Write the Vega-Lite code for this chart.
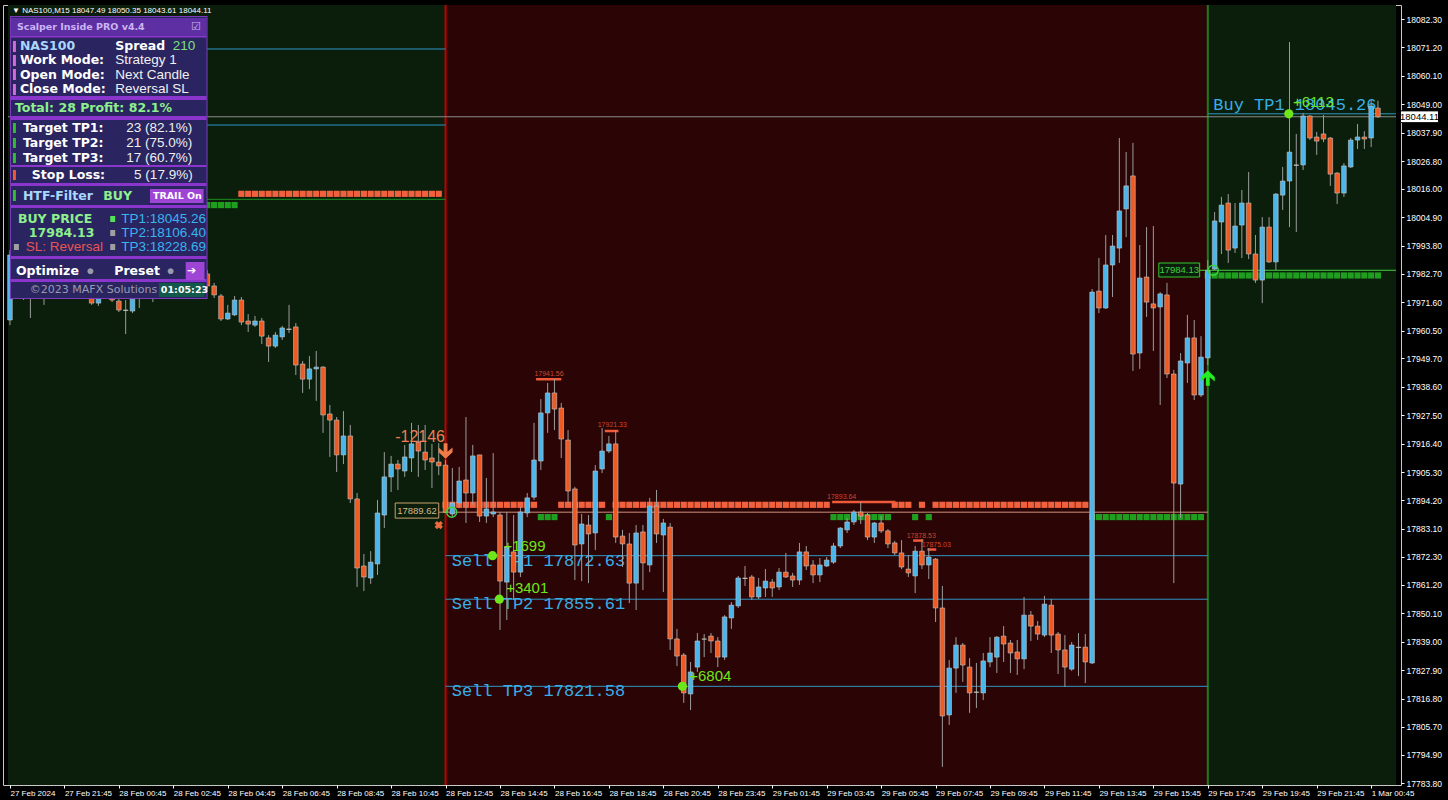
{
"$schema": "https://vega.github.io/schema/vega-lite/v6.json",
"width": 1398, "height": 780,
"autosize": {"type": "none"},
"padding": {"left": 3, "top": 5, "right": 47, "bottom": 15},
"background": "#000000",
"config": {"view": {"stroke": "#c8c8c8"}, "axis": {"grid": false}},
"datasets": {
"candles": [
{"i":0,"o":17964.7,"h":17992.0,"l":17962.7,"c":17990.1},
{"i":1,"o":17989.7,"h":17992.0,"l":17981.1,"c":17984.2},
{"i":2,"o":17984.2,"h":17987.4,"l":17972.5,"c":17978.4},
{"i":3,"o":17976.4,"h":17986.2,"l":17965.5,"c":17983.5},
{"i":4,"o":17983.5,"h":17987.4,"l":17976.4,"c":17980.3},
{"i":5,"o":17978.4,"h":17988.9,"l":17970.6,"c":17986.2},
{"i":6,"o":17985.8,"h":17994.0,"l":17984.2,"c":17991.3},
{"i":7,"o":17991.3,"h":17996.0,"l":17985.0,"c":17987.4},
{"i":8,"o":17987.4,"h":17996.7,"l":17985.8,"c":17994.0},
{"i":9,"o":17994.0,"h":17997.9,"l":17986.2,"c":17988.9},
{"i":10,"o":17988.9,"h":17992.0,"l":17980.3,"c":17982.3},
{"i":11,"o":17982.3,"h":17986.2,"l":17974.5,"c":17976.4},
{"i":12,"o":17976.4,"h":17979.5,"l":17970.6,"c":17971.3},
{"i":13,"o":17971.3,"h":17977.2,"l":17970.2,"c":17973.7},
{"i":14,"o":17973.7,"h":17980.3,"l":17972.9,"c":17978.0},
{"i":15,"o":17978.0,"h":17979.5,"l":17971.7,"c":17972.5},
{"i":16,"o":17972.1,"h":17974.5,"l":17967.8,"c":17968.6},
{"i":17,"o":17968.6,"h":17972.5,"l":17959.2,"c":17968.4},
{"i":18,"o":17968.2,"h":17975.6,"l":17967.4,"c":17973.7},
{"i":19,"o":17973.7,"h":17979.2,"l":17969.4,"c":17977.6},
{"i":20,"o":17977.6,"h":17981.1,"l":17974.1,"c":17975.6},
{"i":21,"o":17975.6,"h":17982.3,"l":17971.7,"c":17980.3},
{"i":22,"o":17980.3,"h":17986.2,"l":17978.8,"c":17984.2},
{"i":23,"o":17984.2,"h":17987.4,"l":17979.2,"c":17981.1},
{"i":24,"o":17981.1,"h":17987.4,"l":17978.4,"c":17985.0},
{"i":25,"o":17985.0,"h":17988.1,"l":17977.2,"c":17980.3},
{"i":26,"o":17979.5,"h":17985.0,"l":17973.3,"c":17983.5},
{"i":27,"o":17983.5,"h":17985.8,"l":17978.4,"c":17981.1},
{"i":28,"o":17980.3,"h":17985.0,"l":17977.2,"c":17982.7},
{"i":29,"o":17982.7,"h":17984.2,"l":17976.4,"c":17978.0},
{"i":30,"o":17978.0,"h":17979.2,"l":17973.3,"c":17974.5},
{"i":31,"o":17974.1,"h":17974.9,"l":17964.3,"c":17965.1},
{"i":32,"o":17965.1,"h":17970.6,"l":17964.7,"c":17967.4},
{"i":33,"o":17966.7,"h":17974.1,"l":17966.3,"c":17972.5},
{"i":34,"o":17972.5,"h":17973.7,"l":17962.7,"c":17963.9},
{"i":35,"o":17964.3,"h":17967.0,"l":17960.0,"c":17963.1},
{"i":36,"o":17962.7,"h":17966.3,"l":17962.0,"c":17964.3},
{"i":37,"o":17964.3,"h":17965.5,"l":17955.3,"c":17958.4},
{"i":38,"o":17957.7,"h":17958.8,"l":17948.3,"c":17954.5},
{"i":39,"o":17954.5,"h":17960.0,"l":17953.8,"c":17958.8},
{"i":40,"o":17958.1,"h":17962.4,"l":17956.9,"c":17961.6},
{"i":41,"o":17961.2,"h":17970.6,"l":17959.6,"c":17961.0},
{"i":42,"o":17962.0,"h":17963.5,"l":17943.2,"c":17947.1},
{"i":43,"o":17947.5,"h":17948.7,"l":17936.2,"c":17941.6},
{"i":44,"o":17941.6,"h":17950.6,"l":17937.7,"c":17945.6},
{"i":45,"o":17945.6,"h":17952.6,"l":17933.1,"c":17946.3},
{"i":46,"o":17946.3,"h":17946.7,"l":17920.6,"c":17927.6},
{"i":47,"o":17928.0,"h":17931.5,"l":17911.2,"c":17925.6},
{"i":48,"o":17925.6,"h":17926.8,"l":17905.3,"c":17912.0},
{"i":49,"o":17912.0,"h":17929.1,"l":17908.4,"c":17919.4},
{"i":50,"o":17919.4,"h":17923.7,"l":17893.2,"c":17894.8},
{"i":51,"o":17894.8,"h":17897.1,"l":17860.4,"c":17867.8},
{"i":52,"o":17868.6,"h":17873.3,"l":17858.8,"c":17864.3},
{"i":53,"o":17863.9,"h":17874.4,"l":17861.6,"c":17870.1},
{"i":54,"o":17869.4,"h":17894.4,"l":17865.1,"c":17889.3},
{"i":55,"o":17888.5,"h":17913.1,"l":17883.4,"c":17903.4},
{"i":56,"o":17903.4,"h":17911.6,"l":17897.5,"c":17908.4},
{"i":57,"o":17908.4,"h":17910.0,"l":17898.3,"c":17906.5},
{"i":58,"o":17905.7,"h":17915.9,"l":17903.4,"c":17911.2},
{"i":59,"o":17910.8,"h":17924.5,"l":17905.3,"c":17916.3},
{"i":60,"o":17917.0,"h":17923.7,"l":17903.4,"c":17913.5},
{"i":61,"o":17913.1,"h":17923.7,"l":17906.1,"c":17910.0},
{"i":62,"o":17910.8,"h":17916.3,"l":17899.1,"c":17909.2},
{"i":63,"o":17909.2,"h":17916.6,"l":17904.1,"c":17907.7},
{"i":64,"o":17908.0,"h":17910.0,"l":17889.3,"c":17889.6},
{"i":65,"o":17888.9,"h":17906.9,"l":17887.7,"c":17893.2},
{"i":66,"o":17893.2,"h":17907.3,"l":17891.2,"c":17901.8},
{"i":67,"o":17902.2,"h":17926.8,"l":17885.4,"c":17897.1},
{"i":68,"o":17897.1,"h":17915.9,"l":17892.4,"c":17911.6},
{"i":69,"o":17912.0,"h":17912.0,"l":17885.8,"c":17888.1},
{"i":70,"o":17888.1,"h":17903.0,"l":17885.4,"c":17890.9},
{"i":71,"o":17888.9,"h":17912.7,"l":17887.7,"c":17889.7},
{"i":72,"o":17888.5,"h":17889.7,"l":17843.6,"c":17862.7},
{"i":73,"o":17862.3,"h":17889.7,"l":17847.5,"c":17876.0},
{"i":74,"o":17874.1,"h":17888.5,"l":17855.3,"c":17866.2},
{"i":75,"o":17866.2,"h":17891.6,"l":17864.3,"c":17889.7},
{"i":76,"o":17889.3,"h":17897.1,"l":17887.7,"c":17895.2},
{"i":77,"o":17895.5,"h":17924.5,"l":17894.4,"c":17910.0},
{"i":78,"o":17909.6,"h":17933.8,"l":17906.1,"c":17928.4},
{"i":79,"o":17928.4,"h":17940.1,"l":17920.6,"c":17936.2},
{"i":80,"o":17936.2,"h":17941.6,"l":17921.7,"c":17929.9},
{"i":81,"o":17930.3,"h":17932.3,"l":17910.8,"c":17918.2},
{"i":82,"o":17917.8,"h":17921.7,"l":17893.2,"c":17897.9},
{"i":83,"o":17898.7,"h":17899.5,"l":17863.1,"c":17876.8},
{"i":84,"o":17877.2,"h":17888.9,"l":17862.7,"c":17885.0},
{"i":85,"o":17884.6,"h":17888.5,"l":17861.9,"c":17881.1},
{"i":86,"o":17881.5,"h":17908.0,"l":17874.8,"c":17905.7},
{"i":87,"o":17906.5,"h":17922.5,"l":17904.9,"c":17913.5},
{"i":88,"o":17913.5,"h":17919.4,"l":17912.7,"c":17916.3},
{"i":89,"o":17916.3,"h":17921.7,"l":17877.6,"c":17879.9},
{"i":90,"o":17880.3,"h":17882.7,"l":17868.2,"c":17877.2},
{"i":91,"o":17877.2,"h":17881.5,"l":17854.1,"c":17861.9},
{"i":92,"o":17861.9,"h":17884.6,"l":17851.4,"c":17881.5},
{"i":93,"o":17881.9,"h":17884.6,"l":17859.2,"c":17869.8},
{"i":94,"o":17869.0,"h":17895.2,"l":17866.2,"c":17892.0},
{"i":95,"o":17892.0,"h":17898.3,"l":17877.6,"c":17881.1},
{"i":96,"o":17880.7,"h":17887.0,"l":17858.4,"c":17885.4},
{"i":97,"o":17883.8,"h":17885.4,"l":17835.8,"c":17840.1},
{"i":98,"o":17840.1,"h":17844.0,"l":17829.5,"c":17833.4},
{"i":99,"o":17833.8,"h":17834.6,"l":17815.1,"c":17819.0},
{"i":100,"o":17818.6,"h":17831.1,"l":17812.3,"c":17827.2},
{"i":101,"o":17829.1,"h":17842.4,"l":17827.2,"c":17839.3},
{"i":102,"o":17840.1,"h":17842.0,"l":17833.0,"c":17840.0},
{"i":103,"o":17841.2,"h":17842.4,"l":17834.6,"c":17839.3},
{"i":104,"o":17839.3,"h":17840.8,"l":17829.1,"c":17833.0},
{"i":105,"o":17833.0,"h":17849.4,"l":17831.9,"c":17848.7},
{"i":106,"o":17848.3,"h":17854.5,"l":17844.0,"c":17853.3},
{"i":107,"o":17853.0,"h":17864.7,"l":17852.2,"c":17863.9},
{"i":108,"o":17863.9,"h":17868.6,"l":17860.8,"c":17863.7},
{"i":109,"o":17864.3,"h":17865.1,"l":17855.3,"c":17856.5},
{"i":110,"o":17856.5,"h":17863.9,"l":17855.7,"c":17860.4},
{"i":111,"o":17860.0,"h":17867.4,"l":17856.5,"c":17862.7},
{"i":112,"o":17862.3,"h":17863.5,"l":17856.5,"c":17860.0},
{"i":113,"o":17860.4,"h":17867.8,"l":17859.2,"c":17866.2},
{"i":114,"o":17866.2,"h":17873.7,"l":17863.9,"c":17864.3},
{"i":115,"o":17864.7,"h":17865.9,"l":17860.4,"c":17863.1},
{"i":116,"o":17863.1,"h":17877.6,"l":17861.2,"c":17874.1},
{"i":117,"o":17874.1,"h":17876.4,"l":17867.0,"c":17868.6},
{"i":118,"o":17869.0,"h":17870.9,"l":17861.9,"c":17865.1},
{"i":119,"o":17865.1,"h":17871.7,"l":17862.3,"c":17869.0},
{"i":120,"o":17868.6,"h":17872.1,"l":17868.2,"c":17870.9},
{"i":121,"o":17870.1,"h":17877.6,"l":17869.4,"c":17876.4},
{"i":122,"o":17876.4,"h":17883.8,"l":17875.6,"c":17883.4},
{"i":123,"o":17882.7,"h":17887.3,"l":17881.5,"c":17885.8},
{"i":124,"o":17885.8,"h":17890.5,"l":17884.6,"c":17889.7},
{"i":125,"o":17889.7,"h":17893.6,"l":17885.0,"c":17888.1},
{"i":126,"o":17888.5,"h":17889.3,"l":17878.7,"c":17879.9},
{"i":127,"o":17879.9,"h":17885.8,"l":17877.6,"c":17885.4},
{"i":128,"o":17885.4,"h":17888.1,"l":17881.5,"c":17882.3},
{"i":129,"o":17882.3,"h":17883.0,"l":17875.6,"c":17877.2},
{"i":130,"o":17877.6,"h":17878.4,"l":17872.9,"c":17873.7},
{"i":131,"o":17873.7,"h":17878.7,"l":17867.4,"c":17868.2},
{"i":132,"o":17867.4,"h":17872.9,"l":17864.3,"c":17865.9},
{"i":133,"o":17864.7,"h":17876.4,"l":17858.0,"c":17874.4},
{"i":134,"o":17874.4,"h":17879.1,"l":17867.4,"c":17869.0},
{"i":135,"o":17869.0,"h":17875.6,"l":17863.5,"c":17872.1},
{"i":136,"o":17871.3,"h":17871.7,"l":17846.7,"c":17852.2},
{"i":137,"o":17852.2,"h":17860.8,"l":17790.1,"c":17810.0},
{"i":138,"o":17810.4,"h":17831.9,"l":17806.5,"c":17828.7},
{"i":139,"o":17828.7,"h":17840.8,"l":17819.0,"c":17837.7},
{"i":140,"o":17837.7,"h":17838.5,"l":17823.3,"c":17829.9},
{"i":141,"o":17829.1,"h":17832.6,"l":17811.2,"c":17819.0},
{"i":142,"o":17819.4,"h":17830.7,"l":17813.1,"c":17819.2},
{"i":143,"o":17819.0,"h":17834.6,"l":17816.2,"c":17831.5},
{"i":144,"o":17831.1,"h":17840.8,"l":17829.1,"c":17834.6},
{"i":145,"o":17833.0,"h":17841.2,"l":17826.8,"c":17840.8},
{"i":146,"o":17841.2,"h":17845.1,"l":17831.1,"c":17838.1},
{"i":147,"o":17838.5,"h":17839.7,"l":17826.8,"c":17834.6},
{"i":148,"o":17835.0,"h":17839.7,"l":17826.0,"c":17832.3},
{"i":149,"o":17832.3,"h":17856.5,"l":17828.3,"c":17849.4},
{"i":150,"o":17849.4,"h":17851.0,"l":17839.3,"c":17845.1},
{"i":151,"o":17845.1,"h":17847.1,"l":17839.7,"c":17842.0},
{"i":152,"o":17841.6,"h":17856.9,"l":17840.8,"c":17853.7},
{"i":153,"o":17853.3,"h":17855.7,"l":17834.6,"c":17841.6},
{"i":154,"o":17842.0,"h":17842.8,"l":17826.4,"c":17835.8},
{"i":155,"o":17835.8,"h":17841.6,"l":17821.3,"c":17829.1},
{"i":156,"o":17828.3,"h":17838.9,"l":17827.6,"c":17837.7},
{"i":157,"o":17836.9,"h":17842.4,"l":17825.6,"c":17836.7},
{"i":158,"o":17836.9,"h":17842.0,"l":17822.9,"c":17831.1},
{"i":159,"o":17830.7,"h":17976.8,"l":17830.3,"c":17975.6},
{"i":160,"o":17976.0,"h":17988.9,"l":17967.4,"c":17969.4},
{"i":161,"o":17969.4,"h":17997.9,"l":17969.0,"c":17986.2},
{"i":162,"o":17986.2,"h":17997.9,"l":17973.7,"c":17993.6},
{"i":163,"o":17992.8,"h":18035.8,"l":17987.0,"c":18007.3},
{"i":164,"o":18008.1,"h":18030.3,"l":17997.1,"c":18017.1},
{"i":165,"o":18021.0,"h":18033.9,"l":17944.8,"c":17951.4},
{"i":166,"o":17951.8,"h":17994.0,"l":17945.6,"c":17981.1},
{"i":167,"o":17981.5,"h":18001.0,"l":17965.9,"c":17971.7},
{"i":168,"o":17971.0,"h":18001.4,"l":17952.6,"c":17969.4},
{"i":169,"o":17969.8,"h":17975.6,"l":17931.5,"c":17974.9},
{"i":170,"o":17974.5,"h":17979.2,"l":17942.0,"c":17943.6},
{"i":171,"o":17943.6,"h":17945.2,"l":17861.9,"c":17901.0},
{"i":172,"o":17900.6,"h":17951.8,"l":17887.3,"c":17948.7},
{"i":173,"o":17947.9,"h":17966.7,"l":17940.1,"c":17957.7},
{"i":174,"o":17957.7,"h":17964.7,"l":17933.4,"c":17935.4},
{"i":175,"o":17935.4,"h":17958.4,"l":17934.6,"c":17950.2},
{"i":176,"o":17949.9,"h":17988.1,"l":17947.1,"c":17984.1},
{"i":177,"o":17984.6,"h":18006.9,"l":17984.2,"c":18003.4},
{"i":178,"o":18003.0,"h":18012.8,"l":17990.5,"c":18009.6},
{"i":179,"o":18010.4,"h":18013.9,"l":17987.0,"c":17992.0},
{"i":180,"o":17992.8,"h":18010.4,"l":17990.9,"c":18001.4},
{"i":181,"o":18001.8,"h":18015.5,"l":17988.9,"c":18010.4},
{"i":182,"o":18010.4,"h":18022.5,"l":17988.5,"c":17990.5},
{"i":183,"o":17990.5,"h":17997.9,"l":17979.2,"c":17980.3},
{"i":184,"o":17980.3,"h":18004.9,"l":17971.3,"c":18001.0},
{"i":185,"o":18001.0,"h":18004.9,"l":17987.0,"c":17987.4},
{"i":186,"o":17987.4,"h":18014.3,"l":17984.2,"c":18013.9},
{"i":187,"o":18013.5,"h":18024.5,"l":18007.7,"c":18019.0},
{"i":188,"o":18019.0,"h":18073.3,"l":18001.0,"c":18030.3},
{"i":189,"o":18025.3,"h":18037.4,"l":17999.1,"c":18025.1},
{"i":190,"o":18025.3,"h":18045.6,"l":18023.3,"c":18044.4},
{"i":191,"o":18044.4,"h":18044.8,"l":18035.0,"c":18035.8},
{"i":192,"o":18036.2,"h":18038.2,"l":18029.2,"c":18034.6},
{"i":193,"o":18037.4,"h":18044.8,"l":18034.2,"c":18035.4},
{"i":194,"o":18035.8,"h":18036.2,"l":18017.1,"c":18021.7},
{"i":195,"o":18022.1,"h":18022.5,"l":18010.0,"c":18014.3},
{"i":196,"o":18014.3,"h":18026.0,"l":18012.8,"c":18024.9},
{"i":197,"o":18024.5,"h":18035.8,"l":18024.1,"c":18035.0},
{"i":198,"o":18035.0,"h":18041.3,"l":18031.5,"c":18036.2},
{"i":199,"o":18036.2,"h":18038.5,"l":18031.5,"c":18035.4},
{"i":200,"o":18035.8,"h":18050.6,"l":18032.3,"c":18048.3},
{"i":201,"o":18047.49,"h":18050.35,"l":18043.61,"c":18044.11}
],
"zones": [{"a":-0.29,"b":64,"z":"pre"},{"a":64,"b":176,"z":"sell"},{"a":176,"b":203.65,"z":"buy"}],
"vlines": [{"i":64,"z":"sell"},{"i":176,"z":"buy"}],
"hlines": [
{"a":20,"b":64,"p":18070.58,"s":"tp"},
{"a":20,"b":64,"p":18040.88,"s":"tp"},
{"a":20,"b":64,"p":18011.85,"s":"prev"},
{"a":-0.29,"b":203.65,"p":18044.11,"s":"bid"},
{"a":63,"b":176,"p":17889.62,"s":"sellE"},
{"a":64,"b":176,"p":17872.63,"s":"tp"},
{"a":64,"b":176,"p":17855.61,"s":"tp"},
{"a":64,"b":176,"p":17821.58,"s":"tp"},
{"a":176,"b":203.65,"p":18045.26,"s":"tp"},
{"a":174.8,"b":203.65,"p":17984.13,"s":"buyE"}
],
"marklines": [
{"a":77.3,"b":81.0,"p":17941.56},
{"a":87.4,"b":89.4,"p":17921.33},
{"a":120.8,"b":130.1,"p":17893.64},
{"a":132.7,"b":134.2,"p":17878.53},
{"a":134.8,"b":136.1,"p":17875.03}
],
"sig": [
{"i":29,"p":18009.6,"s":"g"},{"i":30,"p":18009.6,"s":"g"},{"i":31,"p":18009.6,"s":"g"},{"i":32,"p":18009.6,"s":"g"},{"i":33,"p":18009.6,"s":"g"},
{"i":34,"p":18014.0,"s":"o"},{"i":35,"p":18014.0,"s":"o"},{"i":36,"p":18014.0,"s":"o"},{"i":37,"p":18014.0,"s":"o"},{"i":38,"p":18014.0,"s":"o"},{"i":39,"p":18014.0,"s":"o"},{"i":40,"p":18014.0,"s":"o"},{"i":41,"p":18014.0,"s":"o"},{"i":42,"p":18014.0,"s":"o"},{"i":43,"p":18014.0,"s":"o"},{"i":44,"p":18014.0,"s":"o"},{"i":45,"p":18014.0,"s":"o"},{"i":46,"p":18014.0,"s":"o"},{"i":47,"p":18014.0,"s":"o"},{"i":48,"p":18014.0,"s":"o"},{"i":49,"p":18014.0,"s":"o"},{"i":50,"p":18014.0,"s":"o"},{"i":51,"p":18014.0,"s":"o"},{"i":52,"p":18014.0,"s":"o"},{"i":53,"p":18014.0,"s":"o"},{"i":54,"p":18014.0,"s":"o"},{"i":55,"p":18014.0,"s":"o"},{"i":56,"p":18014.0,"s":"o"},{"i":57,"p":18014.0,"s":"o"},{"i":58,"p":18014.0,"s":"o"},{"i":59,"p":18014.0,"s":"o"},{"i":60,"p":18014.0,"s":"o"},{"i":61,"p":18014.0,"s":"o"},{"i":62,"p":18014.0,"s":"o"},{"i":63,"p":18014.0,"s":"o"},
{"i":64,"p":17892.5,"s":"o"},{"i":65,"p":17892.5,"s":"o"},{"i":66,"p":17892.5,"s":"o"},{"i":67,"p":17892.5,"s":"o"},{"i":68,"p":17892.5,"s":"o"},{"i":69,"p":17892.5,"s":"o"},{"i":70,"p":17892.5,"s":"o"},{"i":71,"p":17892.5,"s":"o"},{"i":72,"p":17892.5,"s":"o"},{"i":73,"p":17892.5,"s":"o"},{"i":74,"p":17892.5,"s":"o"},{"i":75,"p":17892.5,"s":"o"},{"i":76,"p":17892.5,"s":"o"},{"i":77,"p":17892.5,"s":"o"},
{"i":78,"p":17887.7,"s":"g"},{"i":79,"p":17887.7,"s":"g"},{"i":80,"p":17887.7,"s":"g"},
{"i":81,"p":17892.5,"s":"o"},{"i":82,"p":17892.5,"s":"o"},{"i":83,"p":17892.5,"s":"o"},{"i":84,"p":17892.5,"s":"o"},{"i":85,"p":17892.5,"s":"o"},{"i":86,"p":17892.5,"s":"o"},{"i":87,"p":17892.5,"s":"o"},
{"i":88,"p":17887.7,"s":"g"},
{"i":89,"p":17892.5,"s":"o"},{"i":90,"p":17892.5,"s":"o"},{"i":91,"p":17892.5,"s":"o"},{"i":92,"p":17892.5,"s":"o"},{"i":93,"p":17892.5,"s":"o"},{"i":94,"p":17892.5,"s":"o"},{"i":95,"p":17892.5,"s":"o"},{"i":96,"p":17892.5,"s":"o"},{"i":97,"p":17892.5,"s":"o"},{"i":98,"p":17892.5,"s":"o"},{"i":99,"p":17892.5,"s":"o"},{"i":100,"p":17892.5,"s":"o"},{"i":101,"p":17892.5,"s":"o"},{"i":102,"p":17892.5,"s":"o"},{"i":103,"p":17892.5,"s":"o"},{"i":104,"p":17892.5,"s":"o"},{"i":105,"p":17892.5,"s":"o"},{"i":106,"p":17892.5,"s":"o"},{"i":107,"p":17892.5,"s":"o"},{"i":108,"p":17892.5,"s":"o"},{"i":109,"p":17892.5,"s":"o"},{"i":110,"p":17892.5,"s":"o"},{"i":111,"p":17892.5,"s":"o"},{"i":112,"p":17892.5,"s":"o"},{"i":113,"p":17892.5,"s":"o"},{"i":114,"p":17892.5,"s":"o"},{"i":115,"p":17892.5,"s":"o"},{"i":116,"p":17892.5,"s":"o"},{"i":117,"p":17892.5,"s":"o"},{"i":118,"p":17892.5,"s":"o"},{"i":119,"p":17892.5,"s":"o"},{"i":120,"p":17892.5,"s":"o"},
{"i":121,"p":17887.7,"s":"g"},{"i":122,"p":17887.7,"s":"g"},{"i":123,"p":17887.7,"s":"g"},{"i":124,"p":17887.7,"s":"g"},{"i":125,"p":17887.7,"s":"g"},{"i":126,"p":17887.7,"s":"g"},{"i":127,"p":17887.7,"s":"g"},{"i":128,"p":17887.7,"s":"g"},{"i":129,"p":17887.7,"s":"g"},
{"i":130,"p":17892.5,"s":"o"},{"i":131,"p":17892.5,"s":"o"},{"i":132,"p":17892.5,"s":"o"},
{"i":133,"p":17887.7,"s":"g"},
{"i":134,"p":17892.5,"s":"o"},
{"i":135,"p":17887.7,"s":"g"},
{"i":136,"p":17892.5,"s":"o"},{"i":137,"p":17892.5,"s":"o"},{"i":138,"p":17892.5,"s":"o"},{"i":139,"p":17892.5,"s":"o"},{"i":140,"p":17892.5,"s":"o"},{"i":141,"p":17892.5,"s":"o"},{"i":142,"p":17892.5,"s":"o"},{"i":143,"p":17892.5,"s":"o"},{"i":144,"p":17892.5,"s":"o"},{"i":145,"p":17892.5,"s":"o"},{"i":146,"p":17892.5,"s":"o"},{"i":147,"p":17892.5,"s":"o"},{"i":148,"p":17892.5,"s":"o"},{"i":149,"p":17892.5,"s":"o"},{"i":150,"p":17892.5,"s":"o"},{"i":151,"p":17892.5,"s":"o"},{"i":152,"p":17892.5,"s":"o"},{"i":153,"p":17892.5,"s":"o"},{"i":154,"p":17892.5,"s":"o"},{"i":155,"p":17892.5,"s":"o"},{"i":156,"p":17892.5,"s":"o"},{"i":157,"p":17892.5,"s":"o"},{"i":158,"p":17892.5,"s":"o"},
{"i":159,"p":17887.7,"s":"g"},{"i":160,"p":17887.7,"s":"g"},{"i":161,"p":17887.7,"s":"g"},{"i":162,"p":17887.7,"s":"g"},{"i":163,"p":17887.7,"s":"g"},{"i":164,"p":17887.7,"s":"g"},{"i":165,"p":17887.7,"s":"g"},{"i":166,"p":17887.7,"s":"g"},{"i":167,"p":17887.7,"s":"g"},{"i":168,"p":17887.7,"s":"g"},{"i":169,"p":17887.7,"s":"g"},{"i":170,"p":17887.7,"s":"g"},{"i":171,"p":17887.7,"s":"g"},{"i":172,"p":17887.7,"s":"g"},{"i":173,"p":17887.7,"s":"g"},{"i":174,"p":17887.7,"s":"g"},{"i":175,"p":17887.7,"s":"g"},
{"i":176,"p":17982.1,"s":"g"},{"i":177,"p":17982.1,"s":"g"},{"i":178,"p":17982.1,"s":"g"},{"i":179,"p":17982.1,"s":"g"},{"i":180,"p":17982.1,"s":"g"},{"i":181,"p":17982.1,"s":"g"},{"i":182,"p":17982.1,"s":"g"},{"i":183,"p":17982.1,"s":"g"},{"i":184,"p":17982.1,"s":"g"},{"i":185,"p":17982.1,"s":"g"},{"i":186,"p":17982.1,"s":"g"},{"i":187,"p":17982.1,"s":"g"},{"i":188,"p":17982.1,"s":"g"},{"i":189,"p":17982.1,"s":"g"},{"i":190,"p":17982.1,"s":"g"},{"i":191,"p":17982.1,"s":"g"},{"i":192,"p":17982.1,"s":"g"},{"i":193,"p":17982.1,"s":"g"},{"i":194,"p":17982.1,"s":"g"},{"i":195,"p":17982.1,"s":"g"},{"i":196,"p":17982.1,"s":"g"},{"i":197,"p":17982.1,"s":"g"},{"i":198,"p":17982.1,"s":"g"},{"i":199,"p":17982.1,"s":"g"},{"i":200,"p":17982.1,"s":"g"},{"i":201,"p":17982.1,"s":"g"}
],
"dots": [{"i":70.9,"p":17872.63},{"i":71.9,"p":17855.61},{"i":98.8,"p":17821.58},{"i":187.9,"p":18045.26}],
"rings": [{"i":64.9,"p":17889.62},{"i":176.8,"p":17984.13}],
"downs": [{"i":64,"p":17913.5}],
"ups": [{"i":176,"p":17942.0}],
"crosses": [{"i":63.0,"p":17884.6}],
"mono": [
{"i":64.9,"p":17870.5,"t":"Sell TP1 17872.63"},
{"i":64.9,"p":17853.7,"t":"Sell TP2 17855.61"},
{"i":64.9,"p":17819.7,"t":"Sell TP3 17821.58"},
{"i":176.8,"p":18048.7,"t":"Buy TP1 18045.26"}
],
"plus": [
{"i":72.5,"p":17876.6,"t":"+1699"},
{"i":72.9,"p":17859.9,"t":"+3401"},
{"i":99.8,"p":17825.6,"t":"+6804"},
{"i":188.5,"p":18049.9,"t":"+6113"}
],
"neg": [{"i":56.6,"p":17919.0,"t":"-12146"}],
"small": [
{"i":79.2,"p":17943.6,"t":"17941.56"},
{"i":88.5,"p":17923.7,"t":"17921.33"},
{"i":122.2,"p":17895.5,"t":"17893.64"},
{"i":133.9,"p":17880.3,"t":"17878.53"},
{"i":136.1,"p":17876.8,"t":"17875.03"}
],
"boxes": [
{"a":56.6,"b":63.0,"p1":17893.2,"p2":17887.3,"s":"sellbox"},
{"a":168.8,"b":174.8,"p1":17986.97,"p2":17981.5,"s":"buybox"},
{"a":204.3,"b":209.9,"p1":18046.4,"p2":18041.8,"s":"tag"}
],
"boxtext": [
{"i":59.8,"p":17890.1,"t":"17889.62","s":"tan"},
{"i":171.8,"p":17984.2,"t":"17984.13","s":"bg"},
{"i":207.1,"p":18044.11,"t":"18044.11","s":"blk"}
],
"hdr": [{"i":0.3,"p":18085.4,"t":"▼ NAS100,M15  18047.49 18050.35 18043.61 18044.11"}],
"prect": [
{"a":0.0,"b":29.03,"p1":18083.47,"p2":17972.9,"s":"border"},
{"a":0.146,"b":28.88,"p1":18083.08,"p2":17973.29,"s":"panel"},
{"a":0.146,"b":28.88,"p1":18082.69,"p2":18075.66,"s":"head"},
{"a":0.146,"b":28.88,"p1":18075.66,"p2":18075.1,"s":"strip"},
{"a":0.146,"b":28.88,"p1":18052.21,"p2":18050.65,"s":"strip"},
{"a":0.146,"b":28.88,"p1":18044.4,"p2":18042.84,"s":"strip"},
{"a":0.146,"b":28.88,"p1":18025.25,"p2":18024.47,"s":"strip"},
{"a":0.146,"b":28.88,"p1":18018.22,"p2":18017.05,"s":"strip"},
{"a":0.146,"b":28.88,"p1":18009.63,"p2":18008.46,"s":"strip"},
{"a":0.146,"b":28.88,"p1":17989.7,"p2":17988.53,"s":"strip"},
{"a":0.146,"b":28.88,"p1":17980.71,"p2":17979.54,"s":"strip"},
{"a":20.57,"b":28.45,"p1":18015.88,"p2":18010.41,"s":"btn"},
{"a":25.82,"b":28.59,"p1":17987.36,"p2":17980.32,"s":"btn"},
{"a":21.88,"b":28.59,"p1":17979.15,"p2":17973.68,"s":"timer"},
{"a":0.44,"b":0.875,"p1":18073.7,"p2":18069.4,"s":"mag"},
{"a":0.44,"b":0.875,"p1":18068.23,"p2":18063.93,"s":"mag"},
{"a":0.44,"b":0.875,"p1":18062.76,"p2":18058.46,"s":"mag"},
{"a":0.44,"b":0.875,"p1":18056.9,"p2":18052.6,"s":"mag"},
{"a":0.44,"b":0.875,"p1":18041.66,"p2":18037.76,"s":"grn"},
{"a":0.44,"b":0.875,"p1":18035.8,"p2":18031.9,"s":"grn"},
{"a":0.44,"b":0.875,"p1":18029.94,"p2":18026.04,"s":"grn"},
{"a":0.44,"b":0.875,"p1":18023.3,"p2":18019.39,"s":"org"},
{"a":0.44,"b":0.875,"p1":18015.49,"p2":18011.19,"s":"grn"},
{"a":14.73,"b":15.46,"p1":18005.33,"p2":18002.98,"s":"sqg"},
{"a":14.73,"b":15.46,"p1":17999.86,"p2":17997.51,"s":"sqgr"},
{"a":14.73,"b":15.46,"p1":17994.39,"p2":17992.04,"s":"sqgr"},
{"a":0.58,"b":1.31,"p1":17994.39,"p2":17992.04,"s":"sqgr"}
],
"pbold": [
{"i":1.46,"p":18071.75,"t":"NAS100","s":"lb"},
{"i":15.46,"p":18071.75,"t":"Spread","s":"w"},
{"i":1.46,"p":18066.28,"t":"Work  Mode:","s":"w"},
{"i":1.46,"p":18060.42,"t":"Open  Mode:","s":"w"},
{"i":1.46,"p":18054.95,"t":"Close Mode:","s":"w"},
{"i":0.73,"p":18047.52,"t":"Total: 28  Profit: 82.1%","s":"g"},
{"i":1.9,"p":18039.71,"t":"Target TP1:","s":"w"},
{"i":1.9,"p":18033.86,"t":"Target TP2:","s":"w"},
{"i":1.9,"p":18027.99,"t":"Target TP3:","s":"w"},
{"i":3.21,"p":18021.35,"t":"Stop Loss:","s":"w"},
{"i":1.9,"p":18013.14,"t":"HTF-Filter","s":"lb"},
{"i":13.71,"p":18013.14,"t":"BUY","s":"g"},
{"i":1.17,"p":18004.16,"t":"BUY PRICE","s":"g"},
{"i":2.77,"p":17998.69,"t":"17984.13","s":"g"},
{"i":0.88,"p":17983.84,"t":"Optimize","s":"w"},
{"i":15.32,"p":17983.84,"t":"Preset","s":"w"}
],
"pnorm": [
{"i":23.93,"p":18071.75,"t":"210","s":"g"},
{"i":15.46,"p":18066.28,"t":"Strategy 1","s":"w"},
{"i":15.46,"p":18060.42,"t":"Next Candle","s":"w"},
{"i":15.46,"p":18054.95,"t":"Reversal SL","s":"w"},
{"i":17.07,"p":18039.71,"t":"23 (82.1%)","s":"w"},
{"i":17.07,"p":18033.86,"t":"21 (75.0%)","s":"w"},
{"i":17.07,"p":18027.99,"t":"17 (60.7%)","s":"w"},
{"i":18.24,"p":18021.35,"t":"5 (17.9%)","s":"w"},
{"i":2.33,"p":17993.22,"t":"SL: Reversal","s":"r"},
{"i":16.34,"p":18004.16,"t":"TP1:18045.26","s":"c"},
{"i":16.34,"p":17998.69,"t":"TP2:18106.40","s":"c"},
{"i":16.34,"p":17993.22,"t":"TP3:18228.69","s":"c"},
{"i":11.2,"p":17983.84,"t":"●","s":"gr"},
{"i":23.0,"p":17983.84,"t":"●","s":"gr"}
],
"psmall": [
{"i":1.02,"p":18079.17,"t":"Scalper Inside PRO v4.4","s":"lav"},
{"i":21.01,"p":18013.14,"t":"TRAIL On","s":"w"},
{"i":22.17,"p":17976.42,"t":"01:05:23","s":"w"}
],
"pfoot": [
{"i":2.92,"p":17976.42,"t":"©2023 MAFX Solutions","s":"gr"},
{"i":26.6,"p":18079.17,"t":"☑","s":"lav"},
{"i":26.0,"p":17983.84,"t":"➔","s":"w"}
]
},
"layer": [
{"data":{"name":"zones"},"mark":{"type":"rect"},
 "encoding":{"x":{"field":"a","type":"quantitative","scale":{"domain":[-0.29,203.65],"nice":false,"zero":false}},"x2":{"field":"b"},
  "fill":{"field":"z","type":"nominal","scale":{"domain":["pre","sell","buy"],"range":["#0b1e0b","#2b0505","#0b1e0b"]},"legend":null}}},
{"data":{"name":"vlines"},"mark":{"type":"rule","strokeWidth":2},
 "encoding":{"x":{"field":"i","type":"quantitative","scale":{"domain":[-0.29,203.65],"nice":false,"zero":false}},
  "color":{"field":"z","type":"nominal","scale":{"domain":["sell","buy"],"range":["#c00000","#1f7a1f"]},"legend":null}}},
{"data":{"name":"hlines"},"mark":{"type":"rule","strokeWidth":1},
 "encoding":{"x":{"field":"a","type":"quantitative","scale":{"domain":[-0.29,203.65],"nice":false,"zero":false}},"x2":{"field":"b"},
  "y":{"field":"p","type":"quantitative","scale":{"domain":[17783.03,18087.77],"nice":false,"zero":false}},
  "color":{"field":"s","type":"nominal","scale":{"domain":["tp","prev","bid","sellE","buyE"],"range":["#2f95c4","#1f8c1f","#8a8a8a","#c8907c","#3fd03f"]},"legend":null}}},
{"data":{"name":"sig"},"mark":{"type":"point","shape":"square","filled":true,"size":38,"opacity":1},
 "encoding":{"x":{"field":"i","type":"quantitative","scale":{"domain":[-0.29,203.65],"nice":false,"zero":false}},
  "y":{"field":"p","type":"quantitative","scale":{"domain":[17783.03,18087.77],"nice":false,"zero":false}},
  "color":{"field":"s","type":"nominal","scale":{"domain":["o","g"],"range":["#f2613e","#1f9e1f"]},"legend":null}}},
{"data":{"name":"marklines"},"mark":{"type":"rule","strokeWidth":2.5,"color":"#ef5a3a"},
 "encoding":{"x":{"field":"a","type":"quantitative","scale":{"domain":[-0.29,203.65],"nice":false,"zero":false}},"x2":{"field":"b"},
  "y":{"field":"p","type":"quantitative","scale":{"domain":[17783.03,18087.77],"nice":false,"zero":false}}}},
{"data":{"name":"small"},"mark":{"type":"text","font":"Liberation Sans","fontSize":7,"align":"center","baseline":"middle","color":"#cf4430"},
 "encoding":{"x":{"field":"i","type":"quantitative","scale":{"domain":[-0.29,203.65],"nice":false,"zero":false}},
  "y":{"field":"p","type":"quantitative","scale":{"domain":[17783.03,18087.77],"nice":false,"zero":false}},"text":{"field":"t"}}},
{"data":{"name":"mono"},"mark":{"type":"text","font":"Liberation Mono","fontSize":17,"align":"left","baseline":"middle","color":"#38aee8"},
 "encoding":{"x":{"field":"i","type":"quantitative","scale":{"domain":[-0.29,203.65],"nice":false,"zero":false}},
  "y":{"field":"p","type":"quantitative","scale":{"domain":[17783.03,18087.77],"nice":false,"zero":false}},"text":{"field":"t"}}},
{"data":{"name":"candles"},"mark":{"type":"rule","strokeWidth":1,"color":"#9c9c9c"},
 "encoding":{"x":{"field":"i","type":"quantitative","scale":{"domain":[-0.29,203.65],"nice":false,"zero":false},
   "axis":{"orient":"bottom","title":null,"domain":false,"tickCount":60,"values":[0,8,16,24,32,40,48,56,64,72,80,88,96,104,112,120,128,136,144,152,160,168,176,184,192,200],
    "labelExpr":"['27 Feb 2024','27 Feb 21:45','28 Feb 00:45','28 Feb 02:45','28 Feb 04:45','28 Feb 06:45','28 Feb 08:45','28 Feb 10:45','28 Feb 12:45','28 Feb 14:45','28 Feb 16:45','28 Feb 18:45','28 Feb 20:45','28 Feb 23:45','29 Feb 01:45','29 Feb 03:45','29 Feb 05:45','29 Feb 07:45','29 Feb 09:45','29 Feb 11:45','29 Feb 13:45','29 Feb 15:45','29 Feb 17:45','29 Feb 19:45','29 Feb 21:45','1 Mar 00:45'][floor(datum.value/8+0.5)]",
    "labelAlign":"left","labelFont":"Liberation Sans","labelFontSize":8,"labelColor":"#ffffff","tickColor":"#ffffff","tickSize":3,"labelPadding":1,"labelOverlap":false,"labelFlush":false,"labelBound":false}},
  "y":{"field":"l","type":"quantitative","scale":{"domain":[17783.03,18087.77],"nice":false,"zero":false},
   "axis":{"orient":"right","title":null,"domain":false,"tickCount":60,"values":[18082.3,18071.2,18060.1,18049.0,18037.9,18026.8,18016.0,18004.9,17993.8,17982.7,17971.6,17960.5,17949.7,17938.6,17927.5,17916.4,17905.3,17894.2,17883.1,17872.3,17861.2,17850.1,17839.0,17827.9,17816.8,17805.7,17794.9,17783.8],
    "format":".2f","labelFont":"Liberation Sans","labelFontSize":8.5,"labelColor":"#ffffff","tickColor":"#ffffff","tickSize":3,"labelPadding":2,"labelOverlap":false,"labelFlush":false}},
  "y2":{"field":"h"}}},
{"data":{"name":"candles"},"mark":{"type":"bar","size":4.6,"stroke":"#c4c4c4","strokeWidth":0.6},
 "encoding":{"x":{"field":"i","type":"quantitative","scale":{"domain":[-0.29,203.65],"nice":false,"zero":false}},
  "y":{"field":"o","type":"quantitative","scale":{"domain":[17783.03,18087.77],"nice":false,"zero":false}},
  "y2":{"field":"c"},
  "color":{"condition":[{"test":"abs(datum.c-datum.o)<0.35","value":"#c8c8c8"},{"test":"datum.c>datum.o","value":"#4ab6ec"}],"value":"#ef5a22"}}},
{"data":{"name":"boxes"},"mark":{"type":"rect","strokeWidth":1},
 "encoding":{"x":{"field":"a","type":"quantitative","scale":{"domain":[-0.29,203.65],"nice":false,"zero":false}},"x2":{"field":"b"},
  "y":{"field":"p1","type":"quantitative","scale":{"domain":[17783.03,18087.77],"nice":false,"zero":false}},"y2":{"field":"p2"},
  "fill":{"field":"s","type":"nominal","scale":{"domain":["sellbox","buybox","tag"],"range":["#0b1e0b","#0b1e0b","#ffffff"]},"legend":null},
  "stroke":{"field":"s","type":"nominal","scale":{"domain":["sellbox","buybox","tag"],"range":["#c9a26e","#33c833","#000000"]},"legend":null}}},
{"data":{"name":"boxtext"},"mark":{"type":"text","font":"Liberation Sans","fontSize":9.5,"align":"center","baseline":"middle"},
 "encoding":{"x":{"field":"i","type":"quantitative","scale":{"domain":[-0.29,203.65],"nice":false,"zero":false}},
  "y":{"field":"p","type":"quantitative","scale":{"domain":[17783.03,18087.77],"nice":false,"zero":false}},"text":{"field":"t"},
  "color":{"field":"s","type":"nominal","scale":{"domain":["tan","bg","blk"],"range":["#d8b98a","#3fd03f","#000000"]},"legend":null}}},
{"data":{"name":"rings"},"mark":{"type":"point","filled":false,"size":100,"strokeWidth":1.5,"color":"#3fd03f","opacity":1},
 "encoding":{"x":{"field":"i","type":"quantitative","scale":{"domain":[-0.29,203.65],"nice":false,"zero":false}},
  "y":{"field":"p","type":"quantitative","scale":{"domain":[17783.03,18087.77],"nice":false,"zero":false}}}},
{"data":{"name":"dots"},"mark":{"type":"point","filled":true,"size":85,"color":"#6ee61c","opacity":1},
 "encoding":{"x":{"field":"i","type":"quantitative","scale":{"domain":[-0.29,203.65],"nice":false,"zero":false}},
  "y":{"field":"p","type":"quantitative","scale":{"domain":[17783.03,18087.77],"nice":false,"zero":false}}}},
{"data":{"name":"downs"},"mark":{"type":"point","filled":true,"size":240,"color":"#f07a4a","opacity":1,"shape":"M-0.25,-1L0.25,-1L0.25,0.1L0.9,-0.45L0.9,0.15L0,1L-0.9,0.15L-0.9,-0.45L-0.25,0.1Z"},
 "encoding":{"x":{"field":"i","type":"quantitative","scale":{"domain":[-0.29,203.65],"nice":false,"zero":false}},
  "y":{"field":"p","type":"quantitative","scale":{"domain":[17783.03,18087.77],"nice":false,"zero":false}}}},
{"data":{"name":"ups"},"mark":{"type":"point","filled":true,"size":240,"color":"#22ee22","opacity":1,"shape":"M-0.25,1L0.25,1L0.25,-0.1L0.9,0.45L0.9,-0.15L0,-1L-0.9,-0.15L-0.9,0.45L-0.25,-0.1Z"},
 "encoding":{"x":{"field":"i","type":"quantitative","scale":{"domain":[-0.29,203.65],"nice":false,"zero":false}},
  "y":{"field":"p","type":"quantitative","scale":{"domain":[17783.03,18087.77],"nice":false,"zero":false}}}},
{"data":{"name":"crosses"},"mark":{"type":"point","filled":true,"size":70,"shape":"cross","angle":45,"color":"#f06a40","opacity":1},
 "encoding":{"x":{"field":"i","type":"quantitative","scale":{"domain":[-0.29,203.65],"nice":false,"zero":false}},
  "y":{"field":"p","type":"quantitative","scale":{"domain":[17783.03,18087.77],"nice":false,"zero":false}}}},
{"data":{"name":"plus"},"mark":{"type":"text","font":"Liberation Sans","fontSize":15,"align":"left","baseline":"middle","color":"#6ee61c"},
 "encoding":{"x":{"field":"i","type":"quantitative","scale":{"domain":[-0.29,203.65],"nice":false,"zero":false}},
  "y":{"field":"p","type":"quantitative","scale":{"domain":[17783.03,18087.77],"nice":false,"zero":false}},"text":{"field":"t"}}},
{"data":{"name":"neg"},"mark":{"type":"text","font":"Liberation Sans","fontSize":16,"align":"left","baseline":"middle","color":"#f07c58"},
 "encoding":{"x":{"field":"i","type":"quantitative","scale":{"domain":[-0.29,203.65],"nice":false,"zero":false}},
  "y":{"field":"p","type":"quantitative","scale":{"domain":[17783.03,18087.77],"nice":false,"zero":false}},"text":{"field":"t"}}},
{"data":{"name":"hdr"},"mark":{"type":"text","font":"Liberation Sans","fontSize":8,"align":"left","baseline":"middle","color":"#ffffff"},
 "encoding":{"x":{"field":"i","type":"quantitative","scale":{"domain":[-0.29,203.65],"nice":false,"zero":false}},
  "y":{"field":"p","type":"quantitative","scale":{"domain":[17783.03,18087.77],"nice":false,"zero":false}},"text":{"field":"t"}}},
{"data":{"name":"prect"},"mark":{"type":"rect"},
 "encoding":{"x":{"field":"a","type":"quantitative","scale":{"domain":[-0.29,203.65],"nice":false,"zero":false}},"x2":{"field":"b"},
  "y":{"field":"p1","type":"quantitative","scale":{"domain":[17783.03,18087.77],"nice":false,"zero":false}},"y2":{"field":"p2"},
  "fill":{"field":"s","type":"nominal","scale":{"domain":["border","panel","head","strip","btn","timer","mag","grn","org","sqg","sqgr"],"range":["#7b3cbc","#2a2560","#5d2fa2","#8a36cc","#9e45d6","#13594b","#d56bd6","#2fbf2f","#ef5a33","#56e256","#a0a0a0"]},"legend":null}}},
{"data":{"name":"pbold"},"mark":{"type":"text","font":"DejaVu Sans","fontWeight":"bold","fontSize":12.5,"align":"left","baseline":"middle"},
 "encoding":{"x":{"field":"i","type":"quantitative","scale":{"domain":[-0.29,203.65],"nice":false,"zero":false}},
  "y":{"field":"p","type":"quantitative","scale":{"domain":[17783.03,18087.77],"nice":false,"zero":false}},"text":{"field":"t"},
  "color":{"field":"s","type":"nominal","scale":{"domain":["w","lb","g"],"range":["#ffffff","#a9d8ff","#8df08d"]},"legend":null}}},
{"data":{"name":"pnorm"},"mark":{"type":"text","font":"Liberation Sans","fontSize":13.5,"align":"left","baseline":"middle"},
 "encoding":{"x":{"field":"i","type":"quantitative","scale":{"domain":[-0.29,203.65],"nice":false,"zero":false}},
  "y":{"field":"p","type":"quantitative","scale":{"domain":[17783.03,18087.77],"nice":false,"zero":false}},"text":{"field":"t"},
  "color":{"field":"s","type":"nominal","scale":{"domain":["w","g","r","c","gr"],"range":["#f0f0f0","#7ee07e","#e85454","#38b4ee","#9a9aae"]},"legend":null}}},
{"data":{"name":"psmall"},"mark":{"type":"text","font":"DejaVu Sans","fontWeight":"bold","fontSize":9.5,"align":"left","baseline":"middle"},
 "encoding":{"x":{"field":"i","type":"quantitative","scale":{"domain":[-0.29,203.65],"nice":false,"zero":false}},
  "y":{"field":"p","type":"quantitative","scale":{"domain":[17783.03,18087.77],"nice":false,"zero":false}},"text":{"field":"t"},
  "color":{"field":"s","type":"nominal","scale":{"domain":["w","lav"],"range":["#ffffff","#cbb5f5"]},"legend":null}}},
{"data":{"name":"pfoot"},"mark":{"type":"text","font":"DejaVu Sans","fontSize":11,"align":"left","baseline":"middle"},
 "encoding":{"x":{"field":"i","type":"quantitative","scale":{"domain":[-0.29,203.65],"nice":false,"zero":false}},
  "y":{"field":"p","type":"quantitative","scale":{"domain":[17783.03,18087.77],"nice":false,"zero":false}},"text":{"field":"t"},
  "color":{"field":"s","type":"nominal","scale":{"domain":["w","lav","gr"],"range":["#ffffff","#cbb5f5","#9a9aae"]},"legend":null}}}
],
"resolve": {"scale": {"color": "independent", "fill": "independent", "stroke": "independent"}}
}
